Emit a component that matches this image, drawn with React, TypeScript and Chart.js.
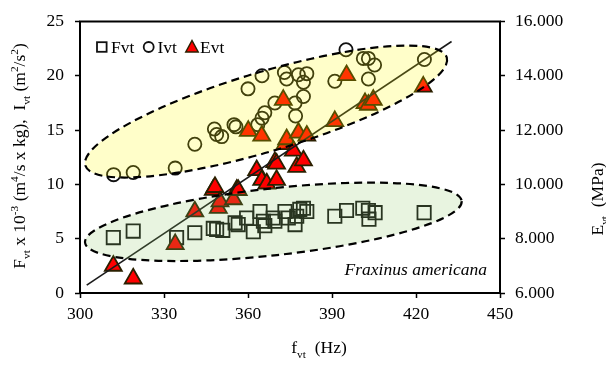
import React, { useEffect, useRef } from "react";
import { Chart, registerables } from "chart.js";

Chart.register(...registerables);

const FAMILY = "'Liberation Serif', 'Times New Roman', serif";
const FS = 17.5;

// Fvt (x 10^-3 m^4/s x kg) vs f (Hz)
const fvtFreq = [311.9, 319, 334.5, 341, 347.6, 348.8, 351, 355.4, 356.5, 359.5, 361.9, 364.3, 365.5, 366, 369, 369.6, 373.2, 374.4, 376.8, 377.4, 378.5, 379.8, 381, 391, 395.2, 401, 403, 403.2, 405.4, 422.9];
const fvtValues = [5.1, 5.7, 5.1, 5.55, 5.95, 5.86, 5.77, 6.46, 6.3, 6.9, 5.64, 7.5, 6.6, 6.2, 6.9, 6.6, 7.5, 6.9, 6.3, 7.07, 7.7, 7.8, 7.5, 7.07, 7.6, 7.8, 7.6, 6.8, 7.4, 7.4];

// Ivt (m^2/s^2) vs f (Hz)
const ivtFreq = [312, 319, 334, 341, 348, 348.8, 350.6, 355, 355.7, 360, 363.5, 365, 365, 366, 369.6, 373, 373.8, 376.8, 377, 378, 379.8, 379.8, 381, 391, 395, 401.2, 403, 403, 405.2, 423];
const ivtValues = [10.9, 11.1, 11.5, 13.7, 15.1, 14.6, 14.4, 15.5, 15.3, 18.8, 15.5, 16.1, 20.0, 16.6, 17.5, 20.3, 19.7, 17.5, 16.3, 20.1, 19.4, 18.1, 20.2, 19.5, 22.4, 21.6, 21.6, 19.7, 21.0, 21.5];

// Evt (MPa) vs f (Hz)
const evtFreq = [311.9, 319, 334, 341, 347.6, 348.2, 349.4, 350, 354.8, 356, 356.5, 360.1, 363.1, 364.9, 364.9, 366.7, 369.6, 370.2, 370.2, 372.6, 373.2, 373.8, 376.2, 377.4, 378, 379.8, 381, 391, 395.2, 401.8, 403, 404.75, 422.6];
const evtValues = [7000, 6530, 7800, 9000, 9800, 9900, 9130, 9370, 9450, 9800, 9790, 11970, 10520, 11790, 10160, 10030, 10820, 10760, 10160, 13110, 11480, 11660, 11240, 10640, 11900, 10880, 11790, 12330, 14020, 12990, 12930, 13110, 13600];

// linear trend of Evt
const trendFreq = [302.4, 432.7];
const trendE = [6290, 15264];

// tick labels
const xTicks = [300, 330, 360, 390, 420, 450];
const yTicks = [0, 5, 10, 15, 20, 25];
const eTicks = [6000, 8000, 10000, 12000, 14000, 16000];

// group ellipses: major-axis ends (f, left-axis value) and minor semi-axis (left-axis units)
const ellipseFreq = [[301.9, 431.0], [301.8, 436.3]];
const ellipseVal = [[11.74, 21.68], [4.64, 8.47]];
const ellipseMinor = [3.65, 3.08];
const ellipseFill = ["rgba(255,250,0,0.21)", "rgba(140,200,100,0.2)"];

type Part = [string, number];

function drawRich(ctx: CanvasRenderingContext2D, parts: Part[], x: number, y: number, rot: number, size: number) {
  ctx.save();
  ctx.translate(x, y);
  ctx.rotate(rot);
  const small = size * 0.65;
  const fonts = [`${size}px ${FAMILY}`, `${small}px ${FAMILY}`, `${small}px ${FAMILY}`];
  const offs = [0, size * 0.28, -size * 0.4];
  let total = 0;
  for (const [t, k] of parts) {
    ctx.font = fonts[k];
    total += ctx.measureText(t).width;
  }
  let cx = -total / 2;
  ctx.textAlign = "left";
  ctx.textBaseline = "alphabetic";
  ctx.fillStyle = "#000";
  for (const [t, k] of parts) {
    ctx.font = fonts[k];
    ctx.fillText(t, cx, offs[k]);
    cx += ctx.measureText(t).width;
  }
  ctx.restore();
}

const decorPlugin = {
  id: "decor",
  afterDatasetsDraw(chart: any) {
    const ctx: CanvasRenderingContext2D = chart.ctx;
    const xs = chart.scales.x;
    const ys = chart.scales.y;
    const unit = ys.getPixelForValue(0) - ys.getPixelForValue(1);
    ctx.save();
    for (let i = 0; i < ellipseFreq.length; i++) {
      const x1 = xs.getPixelForValue(ellipseFreq[i][0]);
      const x2 = xs.getPixelForValue(ellipseFreq[i][1]);
      const y1 = ys.getPixelForValue(ellipseVal[i][0]);
      const y2 = ys.getPixelForValue(ellipseVal[i][1]);
      const cx = (x1 + x2) / 2;
      const cy = (y1 + y2) / 2;
      const a = Math.hypot(x2 - x1, y2 - y1) / 2;
      const b = ellipseMinor[i] * unit;
      const ang = Math.atan2(y2 - y1, x2 - x1);
      ctx.beginPath();
      ctx.ellipse(cx, cy, a, b, ang, 0, Math.PI * 2);
      ctx.fillStyle = ellipseFill[i];
      ctx.fill();
      ctx.setLineDash([8, 5]);
      ctx.lineWidth = 2.2;
      ctx.strokeStyle = "#000";
      ctx.stroke();
    }
    ctx.restore();
  },
  afterDraw(chart: any) {
    const ctx: CanvasRenderingContext2D = chart.ctx;
    const ca = chart.chartArea;
    ctx.save();
    // frame
    ctx.setLineDash([]);
    ctx.lineWidth = 2;
    ctx.strokeStyle = "#000";
    ctx.strokeRect(ca.left, ca.top, ca.right - ca.left, ca.bottom - ca.top);

    // legend
    const ly = 47;
    ctx.lineWidth = 1.8;
    ctx.strokeStyle = "#111";
    ctx.strokeRect(97, ly - 4.8, 9.6, 9.6);
    ctx.beginPath();
    ctx.arc(148.7, ly, 5, 0, Math.PI * 2);
    ctx.stroke();
    ctx.beginPath();
    ctx.moveTo(192, ly - 6.5);
    ctx.lineTo(198.2, ly + 5);
    ctx.lineTo(185.8, ly + 5);
    ctx.closePath();
    ctx.fillStyle = "#ff0000";
    ctx.fill();
    ctx.strokeStyle = "#2b2000";
    ctx.lineWidth = 1.5;
    ctx.stroke();
    ctx.fillStyle = "#000";
    ctx.font = `${FS}px ${FAMILY}`;
    ctx.textBaseline = "alphabetic";
    ctx.textAlign = "left";
    ctx.fillText("Fvt", 111, 53.3);
    ctx.fillText("Ivt", 157.5, 53.3);
    ctx.fillText("Evt", 200, 53.3);

    // species name
    ctx.font = `italic ${FS}px ${FAMILY}`;
    ctx.textAlign = "right";
    ctx.fillText("Fraxinus americana", 487, 275);

    // axis titles
    drawRich(ctx, [["F", 0], ["vt", 1], [" x 10", 0], ["-3", 2], [" (m", 0], ["4", 2], ["/s x kg),  I", 0], ["vt", 1], [" (m", 0], ["2", 2], ["/s", 0], ["2", 2], [")", 0]], 25, 156, -Math.PI / 2, FS);
    drawRich(ctx, [["E", 0], ["vt", 1], ["  (MPa)", 0]], 603, 199, -Math.PI / 2, FS);
    drawRich(ctx, [["f", 0], ["vt", 1], ["  (Hz)", 0]], 319, 353, 0, FS);
    ctx.restore();
  },
};

export default function App() {
  const ref = useRef<HTMLCanvasElement | null>(null);
  useEffect(() => {
    if (!ref.current) return;
    const tickFont = { family: FAMILY, size: FS };
    const chart = new Chart(ref.current, {
      type: "scatter",
      data: {
        datasets: [
          {
            type: "line" as any,
            label: "trend",
            data: trendFreq.map((f, i) => ({ x: f, y: trendE[i] })),
            yAxisID: "y2",
            borderColor: "#1a1a1a",
            borderWidth: 1.6,
            pointRadius: 0,
            fill: false,
            order: 0,
          },
          {
            label: "Evt",
            data: evtFreq.map((f, i) => ({ x: f, y: evtValues[i] })),
            yAxisID: "y2",
            pointStyle: "triangle",
            pointRadius: 9.8,
            backgroundColor: "#ff0000",
            borderColor: "#2b2000",
            borderWidth: 1.8,
            order: 1,
          },
          {
            label: "Ivt",
            data: ivtFreq.map((f, i) => ({ x: f, y: ivtValues[i] })),
            yAxisID: "y",
            pointStyle: "circle",
            pointRadius: 6.6,
            backgroundColor: "rgba(0,0,0,0)",
            borderColor: "#111",
            borderWidth: 1.8,
            order: 2,
          },
          {
            label: "Fvt",
            data: fvtFreq.map((f, i) => ({ x: f, y: fvtValues[i] })),
            yAxisID: "y",
            pointStyle: "rect",
            pointRadius: 9.4,
            backgroundColor: "rgba(0,0,0,0)",
            borderColor: "#111",
            borderWidth: 1.8,
            order: 3,
          },
        ],
      },
      options: {
        animation: false,
        responsive: false,
        maintainAspectRatio: false,
        layout: { padding: { top: 17, left: 0, right: 0, bottom: 0 } },
        plugins: { legend: { display: false }, tooltip: { enabled: false } },
        scales: {
          x: {
            type: "linear",
            min: 300,
            max: 450,
            afterBuildTicks: (s: any) => {
              s.ticks = xTicks.map((v) => ({ value: v }));
            },
            afterFit: (s: any) => {
              s.height = 72;
            },
            grid: { display: true, drawOnChartArea: false, drawTicks: true, tickLength: 5, tickColor: "#000", tickWidth: 1.5 },
            border: { display: false },
            ticks: { font: tickFont, color: "#000", padding: 6, maxRotation: 0, autoSkip: false },
          },
          y: {
            type: "linear",
            position: "left",
            min: 0,
            max: 25,
            afterBuildTicks: (s: any) => {
              s.ticks = yTicks.map((v) => ({ value: v }));
            },
            afterFit: (s: any) => {
              s.width = 80;
            },
            grid: { display: true, drawOnChartArea: false, drawTicks: true, tickLength: 5, tickColor: "#000", tickWidth: 1.5 },
            border: { display: false },
            ticks: { font: tickFont, color: "#000", padding: 11, autoSkip: false },
          },
          y2: {
            type: "linear",
            position: "right",
            min: 6000,
            max: 16000,
            afterBuildTicks: (s: any) => {
              s.ticks = eTicks.map((v) => ({ value: v }));
            },
            afterFit: (s: any) => {
              s.width = 106;
            },
            grid: { display: true, drawOnChartArea: false, drawTicks: true, tickLength: 5, tickColor: "#000", tickWidth: 1.5 },
            border: { display: false },
            ticks: {
              font: tickFont,
              color: "#000",
              padding: 10,
              autoSkip: false,
              callback: (v: any) => (Number(v) / 1000).toFixed(3),
            },
          },
        },
      },
      plugins: [decorPlugin],
    });
    return () => chart.destroy();
  }, []);

  return (
    <div style={{ position: "fixed", left: 0, top: 0, width: 606, height: 365, background: "#fff" }}>
      <canvas ref={ref} width={606} height={365} style={{ width: 606, height: 365, display: "block" }} />
    </div>
  );
}
